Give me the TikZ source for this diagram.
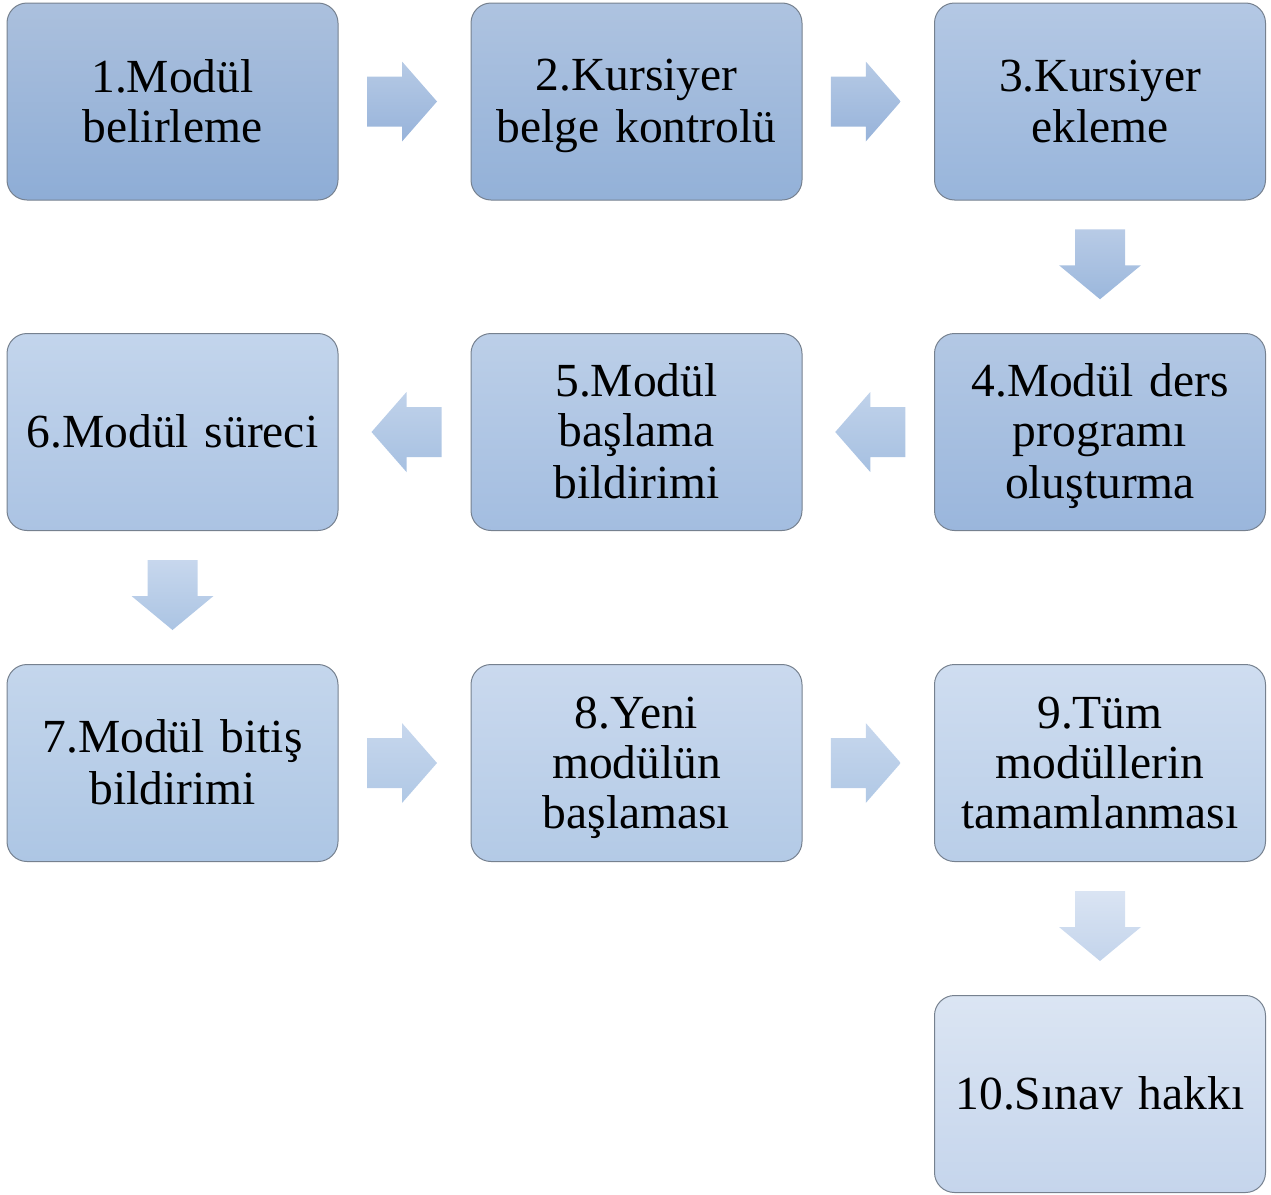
\documentclass[tikz,border=0pt]{standalone}
\usepackage{fontspec}
\setmainfont{Liberation Serif}
\usetikzlibrary{calc}
\newcommand\linestrut{\rule[-9.5pt]{0pt}{50pt}}
\definecolor{boxline}{HTML}{76818F}
\definecolor{tA}{HTML}{ABC0DD}\definecolor{bA}{HTML}{8EADD6}
\definecolor{tB}{HTML}{AEC3E0}\definecolor{bB}{HTML}{93B1D8}
\definecolor{tC}{HTML}{B4C8E4}\definecolor{bC}{HTML}{98B5DB}
\definecolor{tD}{HTML}{B3C8E4}\definecolor{bD}{HTML}{9AB6DC}
\definecolor{tE}{HTML}{BCCFE8}\definecolor{bE}{HTML}{A3BDE0}
\definecolor{tF}{HTML}{C3D5EC}\definecolor{bF}{HTML}{ABC3E3}
\definecolor{tG}{HTML}{C4D6EC}\definecolor{bG}{HTML}{ADC6E4}
\definecolor{tH}{HTML}{CAD9EE}\definecolor{bH}{HTML}{B3CAE6}
\definecolor{tI}{HTML}{CFDDF0}\definecolor{bI}{HTML}{B9CEE8}
\definecolor{tJ}{HTML}{DBE5F3}\definecolor{bJ}{HTML}{C5D5EC}
\definecolor{aTa}{HTML}{B6CAE5}\definecolor{aBa}{HTML}{97B3DA}
\definecolor{aTb}{HTML}{B8CBE6}\definecolor{aBb}{HTML}{9BB7DC}
\definecolor{aTc}{HTML}{C0D2EA}\definecolor{aBc}{HTML}{A6C0E1}
\definecolor{aTd}{HTML}{C7D7ED}\definecolor{aBd}{HTML}{ABC4E3}
\definecolor{aTe}{HTML}{C7D7ED}\definecolor{aBe}{HTML}{B0C8E5}
\definecolor{aTf}{HTML}{DAE4F3}\definecolor{aBf}{HTML}{C3D4EB}
\begin{document}
\begin{tikzpicture}[x=1pt,y=-1pt,
  box/.style={draw=boxline, line width=1pt, rounded corners=20pt,
    minimum width=331pt, minimum height=197pt, inner sep=0pt,
    text width=325pt, align=center,
    font=\fontsize{47.5}{50}\selectfont,
    execute at begin node={\linestrut}, execute at end node={\linestrut}},
  grad/.style 2 args={top color=#1, bottom color=#2},
  rarr/.pic={\path[pic actions] (-35,-25) -- (0,-25) -- (0,-40) -- (35,0)
      -- (0,40) -- (0,25) -- (-35,25) -- cycle;},
  larr/.pic={\path[pic actions] (35,-25) -- (0,-25) -- (0,-40) -- (-35,0)
      -- (0,40) -- (0,25) -- (35,25) -- cycle;},
  darr/.pic={\path[pic actions] (-25,-35) -- (-25,1) -- (-41,1) -- (0,35)
      -- (41,1) -- (25,1) -- (25,-35) -- cycle;}
]
\useasboundingbox (0,0) rectangle (1271,1194);

\node[box, grad={tA}{bA}] (b1) at (172.5,101.5) {1.Modül\\belirleme};
\node[box, grad={tB}{bB}] (b2) at (636.5,101.5) {2.Kursiyer\\belge kontrolü};
\node[box, grad={tC}{bC}] (b3) at (1100,101.5) {3.Kursiyer\\ekleme};
\node[box, grad={tD}{bD}] (b4) at (1100,432) {4.Modül ders\\programı\\oluşturma};
\node[box, grad={tE}{bE}] (b5) at (636.5,432) {5.Modül\\başlama\\bildirimi};
\node[box, grad={tF}{bF}] (b6) at (172.5,432) {6.Modül süreci};
\node[box, grad={tG}{bG}] (b7) at (172.5,763) {7.Modül bitiş\\bildirimi};
\node[box, grad={tH}{bH}] (b8) at (636.5,763) {8.Yeni\\modülün\\başlaması};
\node[box, grad={tI}{bI}] (b9) at (1100,763) {9.Tüm\\modüllerin\\tamamlanması};
\node[box, grad={tJ}{bJ}] (b10) at (1100,1094) {10.Sınav hakkı};

\coordinate (a12) at ($(b1.east)!0.5!(b2.west)+(-2.5,0)$);
\coordinate (a23) at ($(b2.east)!0.5!(b3.west)+(-2.5,0)$);
\coordinate (a34) at ($(b3.south)!0.5!(b4.north)+(0,-2.5)$);
\coordinate (a45) at ($(b4.west)!0.5!(b5.east)+(2,0)$);
\coordinate (a56) at ($(b5.west)!0.5!(b6.east)+(2,0)$);
\coordinate (a67) at ($(b6.south)!0.5!(b7.north)+(0,-2.5)$);
\coordinate (a78) at ($(b7.east)!0.5!(b8.west)+(-2.5,0)$);
\coordinate (a89) at ($(b8.east)!0.5!(b9.west)+(-2.5,0)$);
\coordinate (a910) at ($(b9.south)!0.5!(b10.north)+(0,-2.5)$);

\pic[grad={aTa}{aBa}] at (a12) {rarr};
\pic[grad={aTa}{aBa}] at (a23) {rarr};
\pic[grad={aTb}{aBb}] at (a34) {darr};
\pic[grad={aTc}{aBc}] at (a45) {larr};
\pic[grad={aTc}{aBc}] at (a56) {larr};
\pic[grad={aTd}{aBd}] at (a67) {darr};
\pic[grad={aTe}{aBe}] at (a78) {rarr};
\pic[grad={aTe}{aBe}] at (a89) {rarr};
\pic[grad={aTf}{aBf}] at (a910) {darr};
\end{tikzpicture}
\end{document}
